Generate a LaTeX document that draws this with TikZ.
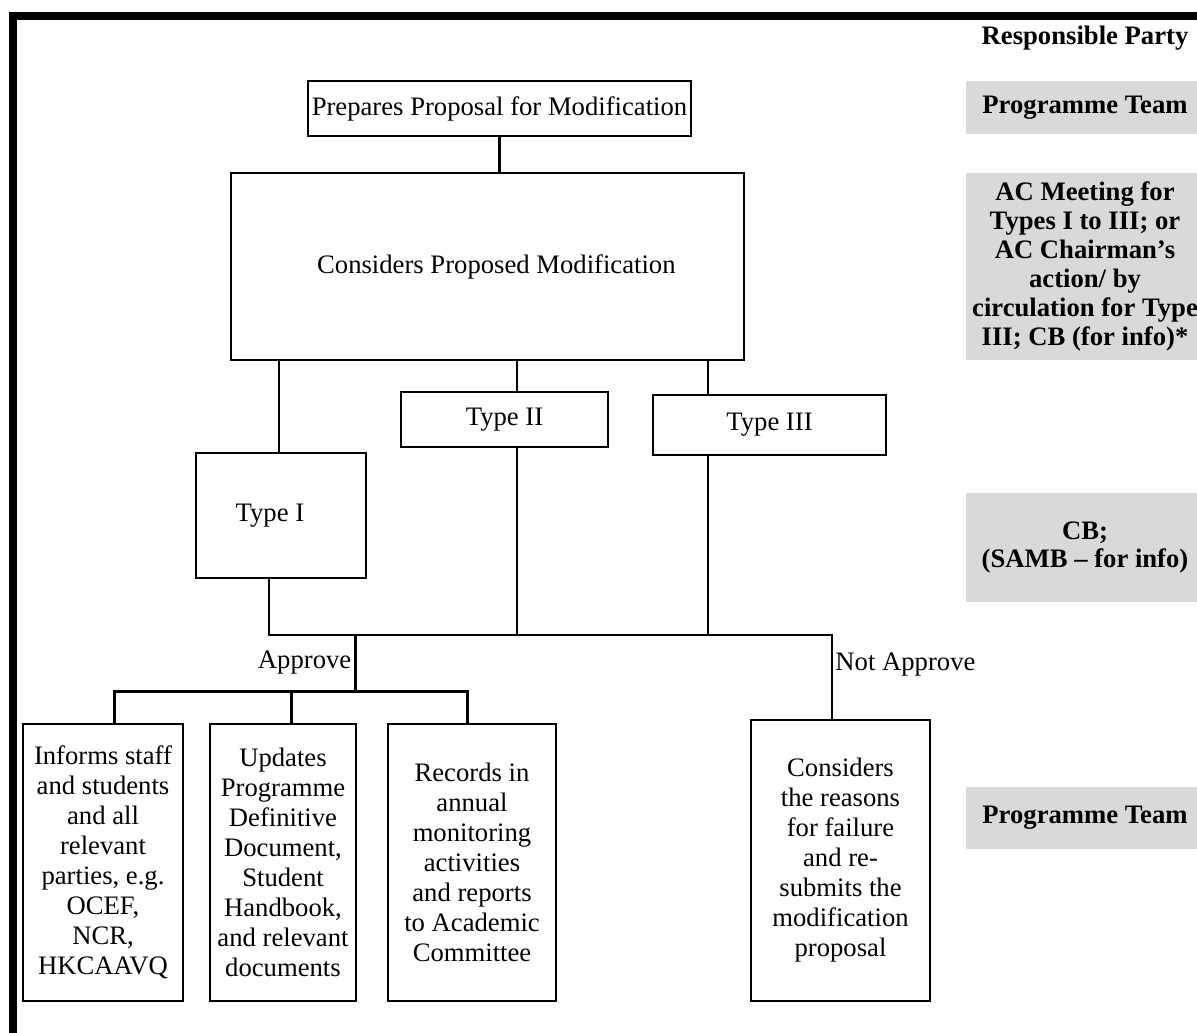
\documentclass[tikz,border=0pt]{standalone}
\usepackage{fontspec}
\setmainfont{Liberation Serif}
\begin{document}
\begin{tikzpicture}[x=0.45pt, y=-0.45pt,
        box/.style={draw, line width=1.2pt, inner sep=0pt, align=center, font=\fontsize{12}{13.5}\selectfont},
        party/.style={fill=black!15, inner sep=0pt, align=center, minimum width=107.1pt, font=\fontsize{12}{13}\selectfont\bfseries},
        link/.style={line width=1.1pt}]
        \path[use as bounding box, clip] (0,0) rectangle (1197,1032);
        \draw[line width=3.6pt] (13,1045) -- (13,16) -- (1210,16);

        \node[box, minimum width=172.35pt, minimum height=24.75pt] (prep) at (499.5,108.5) {Prepares Proposal for Modification};
        \node[box, minimum width=230.85pt, minimum height=84.15pt] (cons) at (487.5,266.5) {\hspace*{8pt}Considers Proposed Modification};
        \node[box, line width=0.9pt, minimum width=76.5pt, minimum height=56.25pt] (type1) at (281,515.5) {Type I\hspace*{10pt}};
        \node[box, line width=0.9pt, minimum width=93.15pt, minimum height=24.75pt] (type2) at (504.5,419.5) {Type II};
        \node[box, line width=0.9pt, minimum width=104.85pt, minimum height=27pt] (type3) at (769.5,425) {Type III};

        \node[box, minimum width=72pt, minimum height=124.65pt] (inform) at (103,862.5) {Informs staff\\and students\\and all\\relevant\\parties, e.g.\\OCEF,\\NCR,\\HKCAAVQ};
        \node[box, minimum width=65.7pt, minimum height=124.65pt] (update) at (283,862.5) {Updates\\Programme\\Definitive\\Document,\\Student\\Handbook,\\and relevant\\documents};
        \node[box, minimum width=75.6pt, minimum height=124.65pt] (record) at (472,862.5) {Records in\\annual\\monitoring\\activities\\and reports\\to Academic\\Committee};
        \node[box, line width=0.9pt, minimum width=80.55pt, minimum height=126.45pt] (fail) at (840.5,860.5) {Considers\\the reasons\\for failure\\and re-\\submits the\\modification\\proposal};

        \node[font=\fontsize{12}{13}\selectfont\bfseries] (head) at (1085,38) {Responsible Party};
        \node[party, minimum height=23.85pt] (p1) at (1085,107.5) {Programme Team};
        \node[party, minimum height=84.15pt] (p2) at (1085,266.5) {AC Meeting for\\Types I to III; or\\AC Chairman’s\\action/ by\\circulation for Type\\III; CB (for info)*};
        \node[party, minimum height=49.05pt] (p3) at (1085,547.5) {CB;\\(SAMB -- for info)};
        \node[party, minimum height=27.9pt] (p4) at (1085,818) {Programme Team};

        \foreach \n/\x in {1/279, 2/517, 3/708} {
            \coordinate (up\n) at (\x,0);
        }
        \foreach \n/\x in {1/269, 2/517, 3/708} {
            \coordinate (dn\n) at (\x,0);
        }
        \coordinate (bus) at (0,635);
        \coordinate (no) at (832,635);
        \coordinate (yes) at (355,635);
        \coordinate (fan) at (355,691);

        \draw[link] (prep.south) -- (prep.south |- cons.north);
        \draw[link] (up1 |- cons.south) -- (up1 |- type1.north);
        \draw[link] (up2 |- cons.south) -- (up2 |- type2.north);
        \draw[link] (up3 |- cons.south) -- (up3 |- type3.north);
        \draw[link] (dn2 |- type2.south) -- (dn2 |- bus);
        \draw[link] (dn3 |- type3.south) -- (dn3 |- bus);
        \draw[link] (dn1 |- type1.south) -- (dn1 |- bus) -- (no) -- (no |- fail.north)
            node[pos=0.35, right, inner sep=1pt, font=\fontsize{12}{13.5}\selectfont] {Not Approve};
        \draw[line width=1.35pt] (yes) -- (fan)
            node[midway, left, inner sep=1pt, font=\fontsize{12}{13.5}\selectfont] {Approve};
        \draw[line width=1.35pt] ([xshift=5pt]inform.north) |- (fan) -| ([xshift=-2.2pt]record.north);
        \draw[line width=1.35pt] ([xshift=4pt]update.north) -- ([xshift=4pt]update.north |- fan);
    \end{tikzpicture}
\end{document}
